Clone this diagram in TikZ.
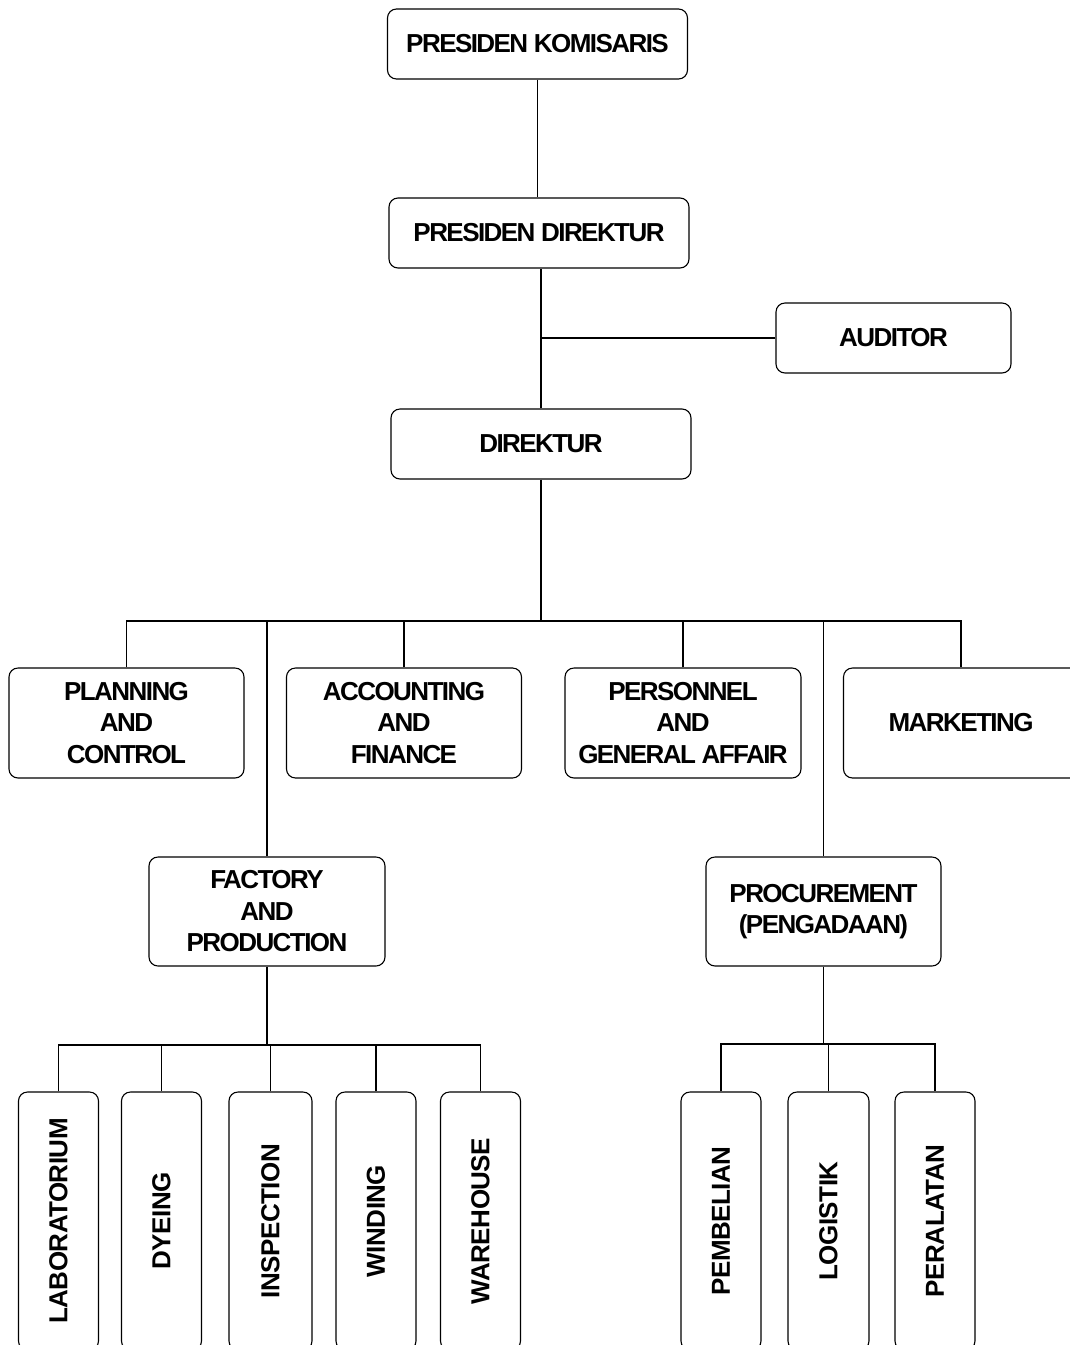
\documentclass[tikz,border=0pt]{standalone}
\usepackage{fontspec}
\newfontfamily\boxfont{Liberation Sans}[LetterSpace=-6]
\newfontfamily\vertfont{Liberation Sans}[LetterSpace=-2]
\begin{document}
\begin{tikzpicture}[x=1pt,y=-1pt,
  box/.style={draw, line width=1.1pt, rounded corners=9pt, inner sep=0pt,
    align=center, font={\boxfont\bfseries\fontsize{26}{31.5}\selectfont}},
  wbox/.style={box, minimum width=300pt, minimum height=70pt},
  mbox/.style={box, minimum width=235pt, minimum height=110pt},
  vbox/.style={box, minimum width=80pt, minimum height=258pt},
  vtext/.style={rotate=90, inner sep=0pt, font={\vertfont\bfseries\fontsize{26}{31.5}\selectfont}},
  link/.style={line width=1.4pt}]
\useasboundingbox (0,0) rectangle (1070,1345);
\clip (0,0) rectangle (1070,1345);

% top of the hierarchy
\node[wbox] (pk)  at (537.5,44)  {PRESIDEN KOMISARIS};
\node[wbox] (pd)  at (539,233)   {PRESIDEN DIREKTUR};
\node[box, minimum width=235pt, minimum height=70pt] (aud) at (893.5,338) {AUDITOR};
\node[wbox] (dir) at (541,444)   {DIREKTUR};

% departments
\node[mbox] (plan) at (126.5,723) {PLANNING\\AND\\CONTROL};
\node[mbox] (acc)  at (404,723)   {ACCOUNTING\\AND\\FINANCE};
\node[mbox, minimum width=236pt] (pers) at (683,723) {PERSONNEL\\AND\\GENERAL AFFAIR};
\node[mbox] (mkt)  at (961,723)   {MARKETING};
\node[box, minimum width=236pt, minimum height=109pt] (fac)  at (267,911.5) {FACTORY\\AND\\PRODUCTION};
\node[box, minimum width=235pt, minimum height=109pt] (proc) at (823.5,911.5) {PROCUREMENT\\(PENGADAAN)};

% production sections
\node[vbox] (lab) at (58.5,1221)  {};
\node[vtext] (labt) at (lab) {LABORATORIUM};
\node[vbox] (dye) at (161.5,1221) {};
\node[vtext] (dyet) at (dye) {DYEING};
\node[vbox, minimum width=83pt] (ins) at (270.5,1221) {};
\node[vtext] (inst) at (ins) {INSPECTION};
\node[vbox] (win) at (376,1221)   {};
\node[vtext] (wint) at (win) {WINDING};
\node[vbox] (war) at (480.5,1221) {};
\node[vtext] (wart) at (war) {WAREHOUSE};

% procurement sections
\node[vbox] (pem) at (721,1221)   {};
\node[vtext] (pemt) at (pem) {PEMBELIAN};
\node[vbox, minimum width=81pt] (log) at (828.5,1221) {};
\node[vtext] (logt) at (log) {LOGISTIK};
\node[vbox] (per) at (935,1221)   {};
\node[vtext] (pert) at (per) {PERALATAN};

% bus lines
\coordinate (bus) at (541,621);
\coordinate (fbus) at (267,1045);
\coordinate (pbus) at (823.5,1044);

\draw[link] (pk.south) -- (pk.south |- pd.north);
\draw[link] (dir.north) -- (dir.north |- pd.south);
\draw[link] (aud.west) -- (aud.west -| dir.north);
\draw[link] (dir.south) -- (bus);
\draw[link] (plan.north) |- (bus) -| (mkt.north);
\draw[link] (acc.north) -- (acc.north |- bus);
\draw[link] (pers.north) -- (pers.north |- bus);
\draw[link] (fac.north) -- (fac.north |- bus);
\draw[link] (proc.north) -- (proc.north |- bus);

\draw[link] (fac.south) -- (fbus);
\draw[link] (lab.north) |- (fbus) -| (war.north);
\draw[link] (dye.north) -- (dye.north |- fbus);
\draw[link] (ins.north) -- (ins.north |- fbus);
\draw[link] (win.north) -- (win.north |- fbus);

\draw[link] (proc.south) -- (pbus);
\draw[link] (pem.north) |- (pbus) -| (per.north);
\draw[link] (log.north) -- (log.north |- pbus);
\end{tikzpicture}
\end{document}
